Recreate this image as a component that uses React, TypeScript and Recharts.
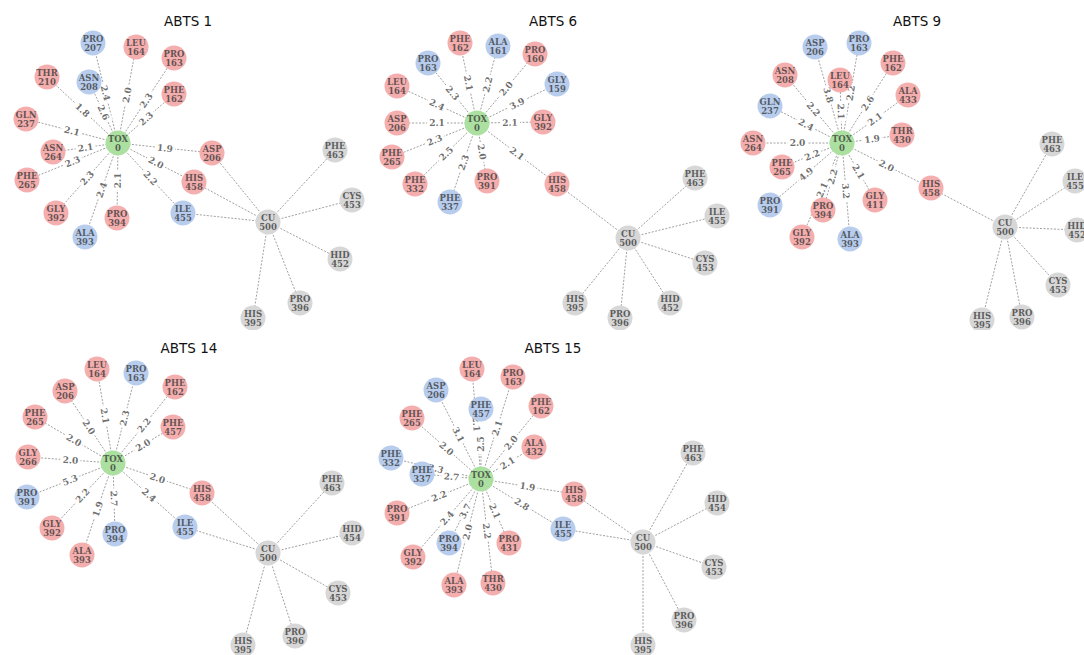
import React from 'react';
import { ScatterChart, Scatter, XAxis, YAxis } from 'recharts';

type Kind = 'tox' | 'red' | 'blue' | 'gray';

interface NodeDatum {
  id: string;
  res: string;
  num: number;
  kind: Kind;
  x: number;
  y: number;
}

// layout position of each residue node, in figure units
const node = (res: string, num: number, kind: Kind, x: number, y: number): NodeDatum => ({
  id: `${res} ${num}`,
  res,
  num,
  kind,
  x,
  y,
});

// ---- ABTS 1 ----
const abts1Nodes = [
  node('TOX', 0, 'tox', 118, 143),
  node('PRO', 207, 'blue', 93, 43),
  node('LEU', 164, 'red', 136, 47),
  node('PRO', 163, 'red', 174, 58),
  node('PHE', 162, 'red', 174, 94),
  node('ASN', 208, 'blue', 89, 82),
  node('THR', 210, 'red', 47, 77),
  node('GLN', 237, 'red', 26, 119),
  node('ASN', 264, 'red', 53, 152),
  node('PHE', 265, 'red', 27, 180),
  node('GLY', 392, 'red', 56, 213),
  node('ALA', 393, 'blue', 85, 237),
  node('PRO', 394, 'red', 117, 218),
  node('ILE', 455, 'blue', 183, 213),
  node('HIS', 458, 'red', 194, 182),
  node('ASP', 206, 'red', 212, 153),
  node('CU', 500, 'gray', 268, 222),
  node('PHE', 463, 'gray', 335, 150),
  node('CYS', 453, 'gray', 352, 200),
  node('HID', 452, 'gray', 340, 259),
  node('PRO', 396, 'gray', 300, 303),
  node('HIS', 395, 'gray', 253, 318),
];
const abts1ToxEdges: [string, number][] = [
  ['PRO 207', 2.4], ['ASN 208', 2.6], ['LEU 164', 2.0], ['PRO 163', 2.3], ['PHE 162', 2.3],
  ['THR 210', 1.8], ['GLN 237', 2.1], ['ASN 264', 2.1], ['PHE 265', 2.3], ['GLY 392', 2.3],
  ['ALA 393', 2.4], ['PRO 394', 2.1], ['ILE 455', 2.2], ['HIS 458', 2.0], ['ASP 206', 1.9],
];
const abts1CuEdges = ['ASP 206', 'HIS 458', 'ILE 455', 'PHE 463', 'CYS 453', 'HID 452', 'PRO 396', 'HIS 395'];

// ---- ABTS 6 ----
const abts6Nodes = [
  node('TOX', 0, 'tox', 477, 123),
  node('PHE', 162, 'red', 460, 43),
  node('ALA', 161, 'blue', 498, 46),
  node('PRO', 160, 'red', 535, 54),
  node('PRO', 163, 'blue', 428, 63),
  node('GLY', 159, 'blue', 557, 84),
  node('LEU', 164, 'red', 397, 86),
  node('ASP', 206, 'red', 397, 123),
  node('GLY', 392, 'red', 543, 122),
  node('PHE', 265, 'red', 392, 157),
  node('PHE', 332, 'red', 415, 184),
  node('PHE', 337, 'blue', 450, 202),
  node('PRO', 391, 'red', 487, 181),
  node('HIS', 458, 'red', 557, 184),
  node('CU', 500, 'gray', 628, 238),
  node('PHE', 463, 'gray', 695, 178),
  node('ILE', 455, 'gray', 717, 216),
  node('CYS', 453, 'gray', 705, 263),
  node('HID', 452, 'gray', 670, 303),
  node('PRO', 396, 'gray', 620, 318),
  node('HIS', 395, 'gray', 575, 303),
];
const abts6ToxEdges: [string, number][] = [
  ['PHE 162', 2.1], ['ALA 161', 2.2], ['PRO 160', 2.0], ['PRO 163', 2.3], ['GLY 159', 3.9],
  ['LEU 164', 2.4], ['ASP 206', 2.1], ['GLY 392', 2.1], ['PHE 265', 2.3], ['PHE 332', 2.5],
  ['PHE 337', 2.3], ['PRO 391', 2.0], ['HIS 458', 2.1],
];
const abts6CuEdges = ['HIS 458', 'PHE 463', 'ILE 455', 'CYS 453', 'HID 452', 'PRO 396', 'HIS 395'];

// ---- ABTS 9 ----
const abts9Nodes = [
  node('TOX', 0, 'tox', 842, 143),
  node('ASP', 206, 'blue', 815, 47),
  node('PRO', 163, 'blue', 859, 43),
  node('PHE', 162, 'red', 893, 63),
  node('ASN', 208, 'red', 785, 75),
  node('ALA', 433, 'red', 908, 95),
  node('GLN', 237, 'blue', 770, 106),
  node('THR', 430, 'red', 902, 135),
  node('ASN', 264, 'red', 753, 143),
  node('PHE', 265, 'red', 782, 167),
  node('HIS', 458, 'red', 931, 188),
  node('GLY', 411, 'red', 875, 200),
  node('PRO', 391, 'blue', 770, 205),
  node('PRO', 394, 'red', 823, 210),
  node('GLY', 392, 'red', 802, 237),
  node('ALA', 393, 'blue', 850, 239),
  node('LEU', 164, 'red', 840, 80),
  node('CU', 500, 'gray', 1005, 227),
  node('PHE', 463, 'gray', 1052, 144),
  node('ILE', 455, 'gray', 1075, 181),
  node('HID', 452, 'gray', 1077, 230),
  node('CYS', 453, 'gray', 1058, 285),
  node('PRO', 396, 'gray', 1022, 317),
  node('HIS', 395, 'gray', 982, 320),
];
const abts9ToxEdges: [string, number][] = [
  ['ASP 206', 3.8], ['PRO 163', 2.2], ['PHE 162', 2.6], ['ASN 208', 2.2], ['LEU 164', 2.1],
  ['ALA 433', 2.1], ['GLN 237', 2.4], ['THR 430', 1.9], ['ASN 264', 2.0], ['PHE 265', 2.2],
  ['HIS 458', 2.0], ['GLY 411', 2.1], ['PRO 391', 4.9], ['PRO 394', 2.2], ['GLY 392', 2.1],
  ['ALA 393', 3.2],
];
const abts9CuEdges = ['HIS 458', 'PHE 463', 'ILE 455', 'HID 452', 'CYS 453', 'PRO 396', 'HIS 395'];

// ---- ABTS 14 ----
const abts14Nodes = [
  node('TOX', 0, 'tox', 113, 463),
  node('LEU', 164, 'red', 97, 369),
  node('PRO', 163, 'blue', 136, 373),
  node('ASP', 206, 'red', 65, 391),
  node('PHE', 162, 'red', 175, 387),
  node('PHE', 265, 'red', 35, 417),
  node('PHE', 457, 'red', 173, 427),
  node('GLY', 266, 'red', 28, 457),
  node('HIS', 458, 'red', 202, 493),
  node('PRO', 391, 'blue', 27, 497),
  node('ILE', 455, 'blue', 185, 527),
  node('GLY', 392, 'red', 52, 528),
  node('PRO', 394, 'blue', 115, 534),
  node('ALA', 393, 'red', 82, 555),
  node('CU', 500, 'gray', 268, 553),
  node('PHE', 463, 'gray', 332, 483),
  node('HID', 454, 'gray', 352, 533),
  node('CYS', 453, 'gray', 338, 593),
  node('PRO', 396, 'gray', 295, 636),
  node('HIS', 395, 'gray', 243, 645),
];
const abts14ToxEdges: [string, number][] = [
  ['LEU 164', 2.1], ['PRO 163', 2.3], ['ASP 206', 2.0], ['PHE 162', 2.2], ['PHE 265', 2.0],
  ['PHE 457', 2.0], ['GLY 266', 2.0], ['HIS 458', 2.0], ['PRO 391', 5.3], ['ILE 455', 2.4],
  ['GLY 392', 2.2], ['PRO 394', 2.7], ['ALA 393', 1.9],
];
const abts14CuEdges = ['HIS 458', 'ILE 455', 'PHE 463', 'HID 454', 'CYS 453', 'PRO 396', 'HIS 395'];

// ---- ABTS 15 ----
const abts15Nodes = [
  node('TOX', 0, 'tox', 481, 479),
  node('LEU', 164, 'red', 472, 369),
  node('PRO', 163, 'red', 513, 377),
  node('ASP', 206, 'blue', 436, 390),
  node('PHE', 457, 'blue', 481, 409),
  node('PHE', 162, 'red', 541, 406),
  node('PHE', 265, 'red', 412, 418),
  node('ALA', 432, 'red', 534, 447),
  node('PHE', 332, 'blue', 391, 458),
  node('PHE', 337, 'blue', 422, 474),
  node('HIS', 458, 'red', 574, 494),
  node('PRO', 391, 'red', 397, 513),
  node('ILE', 455, 'blue', 563, 529),
  node('PRO', 394, 'blue', 449, 543),
  node('PRO', 431, 'red', 509, 543),
  node('GLY', 392, 'red', 413, 557),
  node('ALA', 393, 'red', 454, 585),
  node('THR', 430, 'red', 493, 583),
  node('CU', 500, 'gray', 643, 542),
  node('PHE', 463, 'gray', 693, 453),
  node('HID', 454, 'gray', 717, 503),
  node('CYS', 453, 'gray', 714, 567),
  node('PRO', 396, 'gray', 684, 620),
  node('HIS', 395, 'gray', 643, 645),
];
const abts15ToxEdges: [string, number][] = [
  ['LEU 164', 2.1], ['PRO 163', 2.1], ['ASP 206', 3.1], ['PHE 457', 2.5], ['PHE 162', 2.0],
  ['PHE 265', 2.0], ['ALA 432', 2.1], ['PHE 332', 2.3], ['PHE 337', 2.7], ['HIS 458', 1.9],
  ['PRO 391', 2.2], ['ILE 455', 2.8], ['PRO 394', 3.7], ['PRO 431', 2.1], ['GLY 392', 2.4],
  ['ALA 393', 2.0], ['THR 430', 2.2],
];
const abts15CuEdges = ['HIS 458', 'ILE 455', 'PHE 463', 'HID 454', 'CYS 453', 'PRO 396', 'HIS 395'];

const KIND_FILL: Record<Kind, string> = {
  tox: '#abe0a0',
  red: '#f5aeae',
  blue: '#b8cdee',
  gray: '#d7d7d7',
};

const NODE_R = 12.5;

const NodeShape = (props: any) => {
  const { cx, cy, payload } = props;
  const font = { fontFamily: '"DejaVu Serif", serif', fontWeight: 'bold' as const, fontSize: 8.5 };
  return (
    <g>
      <circle cx={cx} cy={cy} r={NODE_R} fill={KIND_FILL[payload.kind as Kind]} />
      <text x={cx} y={cy - 1.2} textAnchor="middle" fill="#333" fillOpacity={0.75} {...font}>
        {payload.res}
      </text>
      <text x={cx} y={cy + 7.6} textAnchor="middle" fill="#333" fillOpacity={0.75} {...font}>
        {payload.num}
      </text>
    </g>
  );
};

const EdgeLabel = (props: any) => {
  const { cx, cy, payload } = props;
  return (
    <g transform={`translate(${cx},${cy}) rotate(${payload.angle})`}>
      <rect x={-10} y={-5.5} width={20} height={11} rx={2} fill="#fff" />
      <text
        x={0}
        y={3.3}
        textAnchor="middle"
        fontFamily='"DejaVu Serif", serif'
        fontWeight="bold"
        fontSize={9}
        fill="#555"
        fillOpacity={0.85}
      >
        {payload.text}
      </text>
    </g>
  );
};

const NO_DOT = () => <g />;

interface PanelProps {
  title: string;
  titleX: number;
  titleBaseline: number;
  nodes: NodeDatum[];
  toxEdges: [string, number][];
  cuEdges: string[];
  left: number;
  top: number;
  width: number;
  height: number;
}

const NetworkPanel = ({ title, titleX, titleBaseline, nodes, toxEdges, cuEdges, left, top, width, height }: PanelProps) => {
  const byId: Record<string, NodeDatum> = {};
  nodes.forEach((n) => (byId[n.id] = n));
  const tox = byId['TOX 0'];
  const cu = byId['CU 500'];

  const edges = [
    ...toxEdges.map(([id, dist]) => ({ a: tox, b: byId[id], dist })),
    ...cuEdges.map((id) => ({ a: cu, b: byId[id], dist: undefined as number | undefined })),
  ];

  // distance labels sit at the edge midpoint, turned along the edge and kept upright
  const labels = edges
    .filter((e) => e.dist !== undefined)
    .map((e) => {
      let angle = (Math.atan2(e.b.y - e.a.y, e.b.x - e.a.x) * 180) / Math.PI;
      if (angle > 90) angle -= 180;
      if (angle < -90) angle += 180;
      return { x: (e.a.x + e.b.x) / 2, y: (e.a.y + e.b.y) / 2, angle, text: (e.dist as number).toFixed(1) };
    });

  return (
    <div style={{ position: 'absolute', left, top, width, height }}>
      <ScatterChart width={width} height={height} margin={{ top: 0, right: 0, bottom: 0, left: 0 }}>
        <XAxis type="number" dataKey="x" domain={[left, left + width]} hide allowDataOverflow />
        <YAxis type="number" dataKey="y" domain={[top, top + height]} hide reversed allowDataOverflow />
        {edges.map((e, i) => (
          <Scatter
            key={`edge-${i}`}
            data={[e.a, e.b]}
            line={{ stroke: '#888', strokeWidth: 0.8, strokeDasharray: '2 1.5' }}
            shape={NO_DOT}
            isAnimationActive={false}
          />
        ))}
        <Scatter data={labels} shape={EdgeLabel} isAnimationActive={false} />
        <Scatter data={nodes} shape={NodeShape} isAnimationActive={false} />
      </ScatterChart>
      <div
        style={{
          position: 'absolute',
          left: titleX - left - 100,
          top: titleBaseline - top - 12,
          width: 200,
          textAlign: 'center',
          fontFamily: '"DejaVu Sans", sans-serif',
          fontSize: 13.5,
          lineHeight: '14px',
          color: '#111',
        }}
      >
        {title}
      </div>
    </div>
  );
};

export default function App() {
  return (
    <div
      style={{
        position: 'fixed',
        left: 0,
        top: 0,
        width: 1084,
        height: 655,
        background: '#fff',
        overflow: 'hidden',
      }}
    >
      <NetworkPanel title="ABTS 1" titleX={188} titleBaseline={26} nodes={abts1Nodes} toxEdges={abts1ToxEdges} cuEdges={abts1CuEdges} left={0} top={0} width={370} height={330} />
      <NetworkPanel title="ABTS 6" titleX={553} titleBaseline={26} nodes={abts6Nodes} toxEdges={abts6ToxEdges} cuEdges={abts6CuEdges} left={370} top={0} width={360} height={330} />
      <NetworkPanel title="ABTS 9" titleX={917} titleBaseline={26} nodes={abts9Nodes} toxEdges={abts9ToxEdges} cuEdges={abts9CuEdges} left={730} top={0} width={354} height={330} />
      <NetworkPanel title="ABTS 14" titleX={189} titleBaseline={353} nodes={abts14Nodes} toxEdges={abts14ToxEdges} cuEdges={abts14CuEdges} left={0} top={330} width={370} height={325} />
      <NetworkPanel title="ABTS 15" titleX={553} titleBaseline={353} nodes={abts15Nodes} toxEdges={abts15ToxEdges} cuEdges={abts15CuEdges} left={370} top={330} width={370} height={325} />
    </div>
  );
}
